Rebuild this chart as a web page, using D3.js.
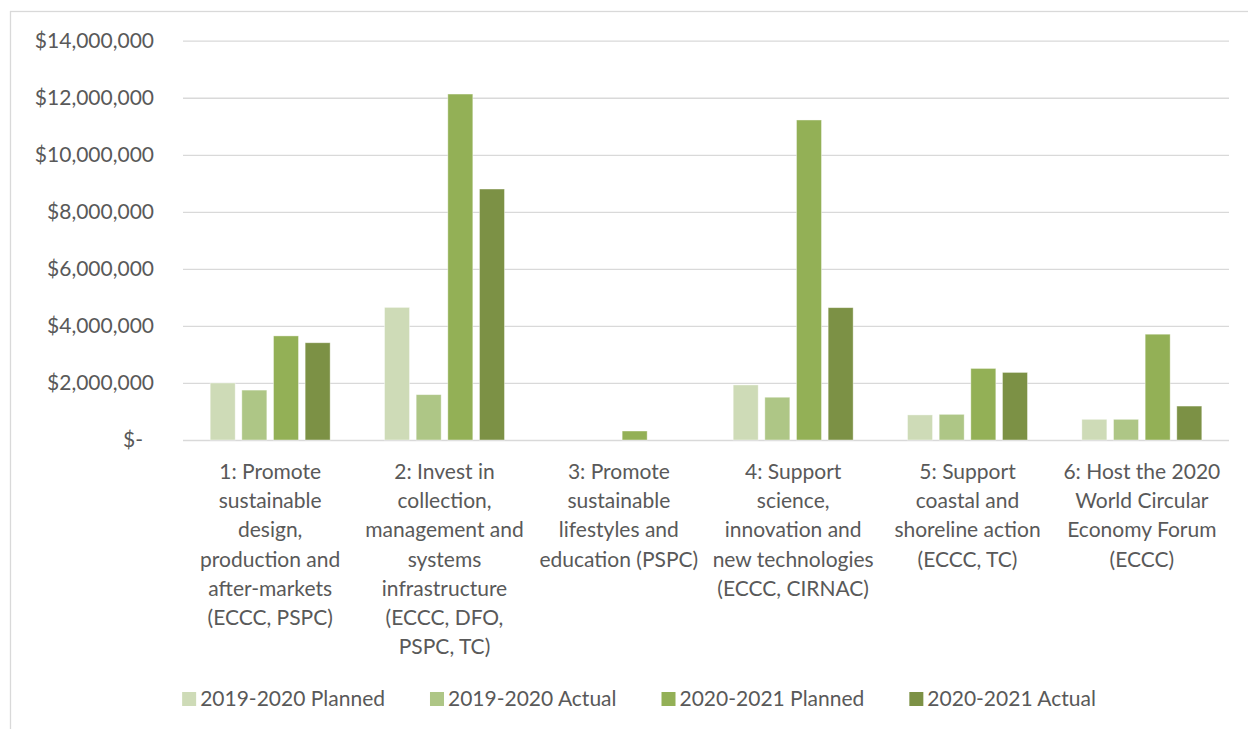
<html>
<head>
  <script src="https://d3js.org/d3.v7.min.js"></script>
  <style>
    body { margin: 0; background: #fff; }
    text { font-family: Lato, "Open Sans", sans-serif; fill: #595959; }
  </style>
</head>
<body>
  <div id="chart"></div>
  <script>
    const categories = ["1", "2", "3", "4", "5", "6"];
    const categoryLabels = [
      ["1: Promote", "sustainable", "design,", "production and", "after-markets", "(ECCC, PSPC)"],
      ["2: Invest in", "collection,", "management and", "systems", "infrastructure", "(ECCC, DFO,", "PSPC, TC)"],
      ["3: Promote", "sustainable", "lifestyles and", "education (PSPC)"],
      ["4: Support", "science,", "innovation and", "new technologies", "(ECCC, CIRNAC)"],
      ["5: Support", "coastal and", "shoreline action", "(ECCC, TC)"],
      ["6: Host the 2020", "World Circular", "Economy Forum", "(ECCC)"]
    ];
    const seriesNames = ["2019-2020 Planned", "2019-2020 Actual", "2020-2021 Planned", "2020-2021 Actual"];
    const planned1920 = [2000000, 4650000, 0, 1930000, 880000, 725000];
    const actual1920 = [1750000, 1590000, 0, 1500000, 900000, 725000];
    const planned2021 = [3650000, 12130000, 315000, 11220000, 2510000, 3710000];
    const actual2021 = [3410000, 8800000, 0, 4640000, 2370000, 1190000];
    const yTicks = [0, 2000000, 4000000, 6000000, 8000000, 10000000, 12000000, 14000000];
    const colors = ["#cedbb7", "#aec686", "#93b056", "#7c9145"];

    const w = 1248, h = 729;
    const plotLeft = 183, plotRight = 1229, plotTop = 40.7, plotBottom = 440;

    const seriesValues = [planned1920, actual1920, planned2021, actual2021];
    const rows = categories.map((c, i) => ({
      cat: c,
      values: seriesNames.map((s, j) => ({ series: s, value: seriesValues[j][i] }))
    }));

    const svg = d3.select("#chart").append("svg")
      .attr("width", w).attr("height", h);

    // chart frame (cut off at right/bottom like the original)
    svg.append("rect")
      .attr("x", 10.5).attr("y", 11.5)
      .attr("width", 1400).attr("height", 1000)
      .attr("fill", "none").attr("stroke", "#d9d9d9").attr("stroke-width", 1.3);

    const x0 = d3.scaleBand().domain(categories).range([plotLeft, plotRight]);
    const x1 = d3.scaleBand().domain(seriesNames)
      .range([0, x0.bandwidth()]).paddingInner(0.21).paddingOuter(0.859);
    const y = d3.scaleLinear().domain([0, 14000000]).range([plotBottom, plotTop]);
    const color = d3.scaleOrdinal().domain(seriesNames).range(colors);

    // gridlines
    svg.append("g")
      .attr("transform", "translate(" + plotLeft + ",0)")
      .call(d3.axisLeft(y).tickValues(yTicks).tickSize(-(plotRight - plotLeft)).tickFormat(""))
      .call(g => g.select(".domain").remove())
      .call(g => g.selectAll("line").attr("stroke", "#d9d9d9").attr("stroke-width", 1.3));

    // y labels
    const fmt = d3.format(",");
    svg.append("g")
      .attr("transform", "translate(" + plotLeft + ",0)")
      .call(d3.axisLeft(y).tickValues(yTicks).tickSize(0).tickPadding(29)
        .tickFormat(d => d === 0 ? "$-" : "$" + fmt(d)))
      .call(g => g.select(".domain").remove())
      .call(g => g.selectAll("text")
        .attr("font-size", 21).attr("fill", "#595959")
        .style("font-family", "Lato, sans-serif")
        .attr("dx", d => d === 0 ? -11 : 0));

    // bars
    const groups = svg.selectAll(".group")
      .data(rows)
      .enter()
      .append("g")
      .attr("class", "group")
      .attr("transform", d => "translate(" + x0(d.cat) + ",0)");

    groups.selectAll("rect")
      .data(d => d.values.filter(v => v.value > 0))
      .enter()
      .append("rect")
      .attr("x", d => x1(d.series))
      .attr("y", d => y(d.value))
      .attr("width", x1.bandwidth())
      .attr("height", d => y(0) - y(d.value))
      .attr("fill", d => color(d.series))
      .attr("stroke", "#ffffff")
      .attr("stroke-opacity", 0.5)
      .attr("stroke-width", 0.8);

    // category labels
    const xAxis = svg.append("g")
      .attr("transform", "translate(0," + plotBottom + ")")
      .call(d3.axisBottom(x0).tickSize(0).tickFormat(""));
    xAxis.select(".domain").remove();
    xAxis.selectAll(".tick").each(function(d, i) {
      const t = d3.select(this).append("text")
        .attr("text-anchor", "middle")
        .attr("font-size", 21)
        .attr("fill", "#595959")
        .style("font-family", "Lato, sans-serif");
      categoryLabels[i].forEach((line, k) => {
        t.append("tspan").attr("x", 0).attr("y", 31.7 + k * 29.2)
          .attr("dy", "0.35em").text(line);
      });
    });

    // legend
    const legend = svg.append("g").attr("class", "legend");
    const items = legend.selectAll(".item")
      .data(seriesNames)
      .enter()
      .append("g")
      .attr("class", "item");
    items.append("rect")
      .attr("width", 14).attr("height", 14)
      .attr("y", 692)
      .attr("fill", d => color(d));
    items.append("text")
      .attr("x", 18).attr("y", 699).attr("dy", "0.35em")
      .attr("font-size", 21)
      .text(d => d);
    let pos = 0;
    const offsets = [];
    items.each(function() {
      offsets.push(pos);
      const tw = d3.select(this).select("text").node().getComputedTextLength();
      pos += 18 + tw + 45;
    });
    const total = pos - 45;
    const start = 639 - total / 2;
    items.attr("transform", (d, i) => "translate(" + (start + offsets[i]) + ",0)");
  </script>
</body>
</html>
